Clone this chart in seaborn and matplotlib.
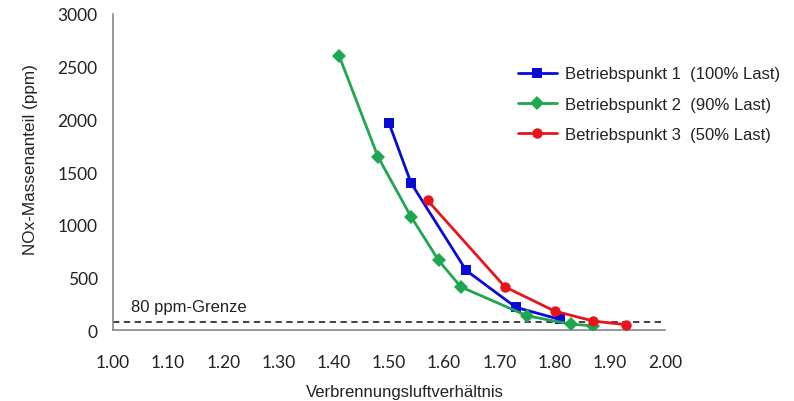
import matplotlib
matplotlib.use("Agg")
import matplotlib.pyplot as plt
import seaborn as sns
import pandas as pd

# values
lambda_bp1 = [1.50, 1.54, 1.64, 1.73, 1.81]
nox_bp1 = [1965, 1395, 565, 215, 100]

lambda_bp2 = [1.41, 1.48, 1.54, 1.59, 1.63, 1.75, 1.83, 1.87]
nox_bp2 = [2600, 1645, 1075, 660, 410, 135, 55, 40]

lambda_bp3 = [1.57, 1.71, 1.80, 1.87, 1.93]
nox_bp3 = [1230, 410, 180, 85, 50]

labels = ["Betriebspunkt 1  (100% Last)",
          "Betriebspunkt 2  (90% Last)",
          "Betriebspunkt 3  (50% Last)"]
grenze = 80
x_ticks = [1.00, 1.10, 1.20, 1.30, 1.40, 1.50, 1.60, 1.70, 1.80, 1.90, 2.00]
y_ticks = [0, 500, 1000, 1500, 2000, 2500, 3000]


def main():
    sns.set_style("white")
    plt.rcParams['font.family'] = ['Liberation Sans', 'DejaVu Sans']

    # build one long table for seaborn
    frames = []
    for lab, xs, ys in zip(labels, [lambda_bp1, lambda_bp2, lambda_bp3],
                           [nox_bp1, nox_bp2, nox_bp3]):
        frames.append(pd.DataFrame({"lambda": xs, "nox": ys, "serie": lab}))
    data = pd.concat(frames, ignore_index=True)

    colors = {labels[0]: "#0a0ad6", labels[1]: "#1ea650", labels[2]: "#e8141c"}
    markers = {labels[0]: "s", labels[1]: "D", labels[2]: "o"}

    fig = plt.figure(figsize=(7.94, 4.02), dpi=100)
    ax = fig.add_axes([0.1423, 0.1766, 0.6952, 0.7861])

    # dashed limit line first so the series sit on top
    ax.plot([1.0, 2.0], [grenze, grenze], color="#333333", lw=1.3,
            ls=(0, (3.5, 2.5)), zorder=1)
    ax.text(1.033, 150, "80 ppm-Grenze", fontsize=12, color="#222222",
            ha="left", va="bottom")

    sns.lineplot(data=data, x="lambda", y="nox", hue="serie", style="serie",
                 palette=colors, markers=markers, dashes=False, sort=False,
                 linewidth=2.0, markersize=7.5, markeredgewidth=0, ax=ax, zorder=3)

    ax.set_xlim(1.0, 2.0)
    ax.set_ylim(0, 3000)
    ax.set_xticks(x_ticks)
    ax.set_xticklabels(["%.2f" % v for v in x_ticks], family="Lato")
    ax.set_yticks(y_ticks)
    ax.set_yticklabels([str(v) for v in y_ticks], family="Lato")
    ax.tick_params(axis="both", labelsize=12.5, colors="#222222",
                   direction="out", length=5, width=1, color="#888888")
    ax.tick_params(axis="x", pad=12)
    ax.tick_params(axis="y", pad=6)

    for side in ["top", "right"]:
        ax.spines[side].set_visible(False)
    for side in ["left", "bottom"]:
        ax.spines[side].set_color("#888888")
        ax.spines[side].set_linewidth(1.2)

    ax.set_xlabel("Verbrennungsluftverhältnis", fontsize=12, labelpad=8,
                  color="#222222")
    ax.xaxis.set_label_coords(0.529, -0.17)
    ax.set_ylabel("NOx-Massenanteil (ppm)", fontsize=12.3, labelpad=14,
                  color="#222222")
    ax.yaxis.set_label_coords(-0.136, 0.544)

    leg = ax.legend(loc="upper left", bbox_to_anchor=(0.722, 0.855),
                    frameon=False, fontsize=12, handlelength=2.3,
                    handletextpad=0.5, labelspacing=0.92, borderaxespad=0)
    for t in leg.get_texts():
        t.set_color("#222222")

    fig.savefig("out.png", dpi=100)
    plt.close(fig)


if __name__ == "__main__":
    main()
